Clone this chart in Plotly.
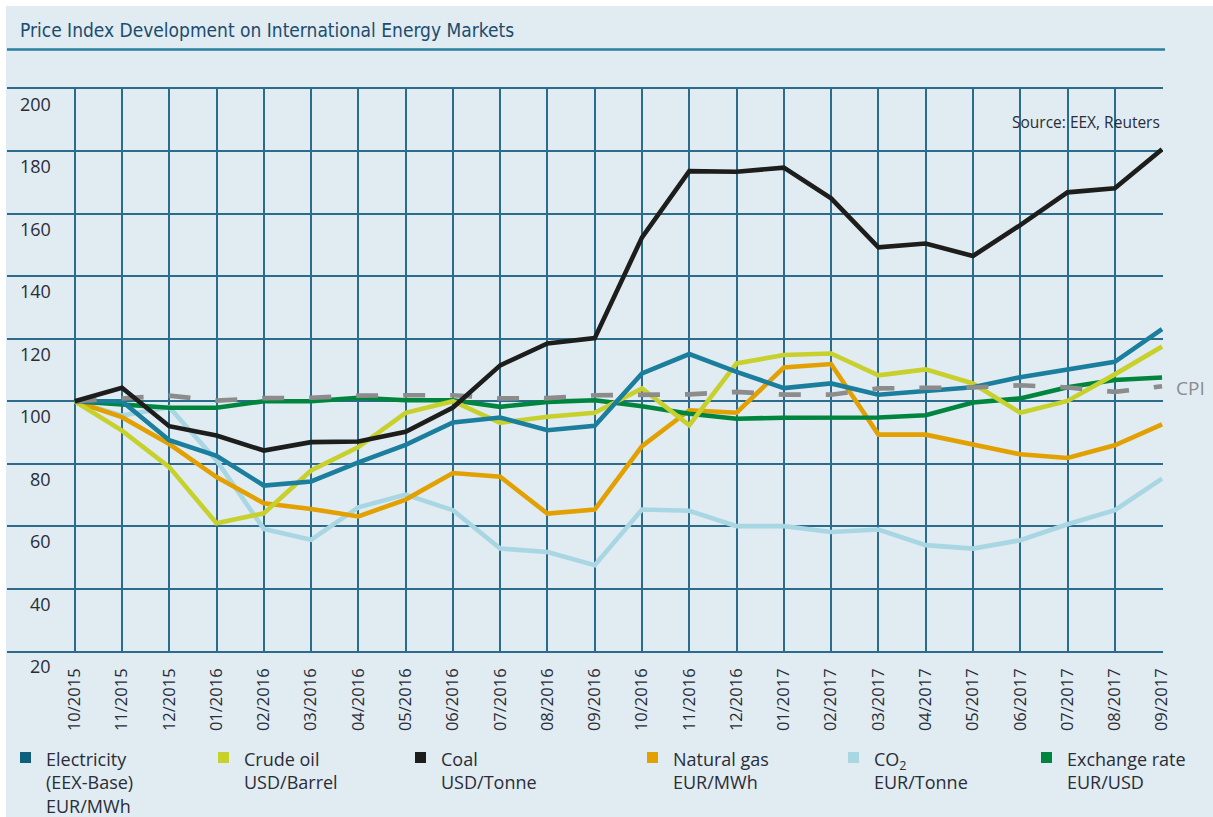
import plotly.graph_objects as go

# ---------------- data ----------------
months = ["10/2015", "11/2015", "12/2015", "01/2016", "02/2016", "03/2016",
          "04/2016", "05/2016", "06/2016", "07/2016", "08/2016", "09/2016",
          "10/2016", "11/2016", "12/2016", "01/2017", "02/2017", "03/2017",
          "04/2017", "05/2017", "06/2017", "07/2017", "08/2017", "09/2017"]

electricity = [100, 100, 87.5, 82.5, 73, 74.3, 80.4, 86, 93.2, 94.8, 90.7, 92.1,
               108.9, 115.1, 109.4, 104.2, 105.7, 102.1, 103.3, 104.5, 107.7, 110.2, 112.6, 123.1]
crude_oil = [100, 90.6, 78.9, 60.9, 64.1, 77.8, 85.3, 96.3, 100, 93.1, 95, 96.3,
             104.1, 92.3, 112.1, 114.8, 115.3, 108.3, 110.2, 105.7, 96.3, 100.1, 108.6, 117.5]
coal = [100, 104.3, 92, 89, 84.2, 86.9, 87.1, 90.2, 98, 111.5, 118.5, 120.2,
        152.5, 173.7, 173.5, 174.8, 165, 149.3, 150.5, 146.5, 156.4, 166.9, 168.2, 180.7]
natural_gas = [100, 94.9, 86.3, 75.7, 67.3, 65.5, 63.1, 68.5, 77, 75.8, 64, 65.3,
               85.6, 97.1, 96.3, 110.8, 111.9, 89.3, 89.3, 86.2, 83, 81.8, 85.9, 92.6]
co2 = [100, 95.4, 98.1, 81, 59.1, 55.6, 66, 70.1, 65.1, 52.8, 51.7, 47.5,
       65.3, 64.9, 60, 60, 58.1, 58.9, 53.9, 52.8, 55.5, 60.6, 65.1, 75.2]
exchange_rate = [100, 99, 97.9, 97.9, 100, 100, 101.1, 100.3, 100.3, 98.2, 99.8, 100.3,
                 98.4, 96, 94.4, 94.7, 94.8, 94.8, 95.5, 99.6, 100.9, 104.5, 106.8, 107.6]
cpi = [100, 101, 101.8, 100.2, 101, 101.1, 101.8, 101.9, 101.9, 100.9, 101, 101.9,
       101.9, 102.2, 103, 102.1, 102.1, 104.1, 104.3, 104.4, 105.1, 104.4, 103, 104.8]

y_ticks = [20, 40, 60, 80, 100, 120, 140, 160, 180, 200]

title_text = "Price Index Development on International Energy Markets"
source_text = "Source: EEX, Reuters"
legend_labels = ["Electricity<br>(EEX-Base)<br>EUR/MWh", "Crude oil<br>USD/Barrel",
                 "Coal<br>USD/Tonne", "Natural gas<br>EUR/MWh",
                 "CO<sub>2</sub><br>EUR/Tonne", "Exchange rate<br>EUR/USD"]

# ---------------- styles ----------------
C_ELEC = "#1b7e9c"
C_OIL = "#c8d02c"
C_COAL = "#1d1d1b"
C_GAS = "#e2a100"
C_CO2 = "#a9d6e3"
C_FX = "#00853f"
C_CPI = "#8c8c8c"
BG = "#e0ebf2"
GRID = "#2b6c8c"
TXT = "#2a2d38"

W, H = 1213, 817
L, R, T, B = 7, 50, 89, 166
PW, PH = W - L - R, H - T - B


def px(x):  # pixel -> paper
    return (x - L) / PW


def py(y):
    return (H - B - y) / PH


x_idx = list(range(len(months)))

fig = go.Figure()

series = [
    ("CO2", co2, C_CO2, None),
    ("Natural gas", natural_gas, C_GAS, None),
    ("Exchange rate", exchange_rate, C_FX, None),
    ("Crude oil", crude_oil, C_OIL, None),
    ("Electricity", electricity, C_ELEC, None),
    ("CPI", cpi, C_CPI, "22px,25px"),
    ("Coal", coal, C_COAL, None),
]
for name, vals, col, dash in series:
    line = dict(color=col, width=4.6)
    if dash:
        line["dash"] = dash
    fig.add_trace(go.Scatter(x=x_idx, y=vals, mode="lines", name=name, line=line,
                             showlegend=False, hoverinfo="x+y+name"))

shapes = []
# white page border at top and left
shapes.append(dict(type="rect", xref="paper", yref="paper", x0=px(-5), x1=px(1230),
                   y0=py(6), y1=py(-5), fillcolor="white", line=dict(width=0), layer="below"))
shapes.append(dict(type="rect", xref="paper", yref="paper", x0=px(-5), x1=px(6),
                   y0=py(830), y1=py(-5), fillcolor="white", line=dict(width=0), layer="below"))
# separator under title
shapes.append(dict(type="line", xref="paper", yref="paper", x0=px(7), x1=px(1165),
                   y0=py(49.5), y1=py(49.5), line=dict(color="#2a7fa2", width=2.5)))

annotations = []
annotations.append(dict(text=title_text, xref="paper", yref="paper", x=px(18), y=py(30),
                        xanchor="left", yanchor="middle", showarrow=False,
                        font=dict(family="Liberation Sans Narrow, DejaVu Sans Condensed, Noto Sans",
                                  size=19, color="#1d4c6c")))
annotations.append(dict(text=source_text, xref="paper", yref="paper", x=px(1162), y=py(122),
                        xanchor="right", yanchor="middle", showarrow=False,
                        font=dict(family="Open Sans", size=15.5, color=TXT)))
annotations.append(dict(text="CPI", xref="paper", y=cpi[-1], yref="y", x=px(1174),
                        xanchor="left", yanchor="middle", showarrow=False, yshift=-2,
                        font=dict(family="Open Sans", size=19, color=C_CPI)))
for v in y_ticks:
    annotations.append(dict(text=str(v), xref="paper", yref="y", x=px(53), y=v,
                            xanchor="right", yanchor="middle", yshift=-15, showarrow=False,
                            font=dict(family="Open Sans", size=18, color=TXT)))

legend_sq_colors = ["#0d5f7d", C_OIL, C_COAL, C_GAS, C_CO2, C_FX]
legend_x = [20, 218, 415, 647, 848, 1041]
for lab, col, lx in zip(legend_labels, legend_sq_colors, legend_x):
    shapes.append(dict(type="rect", xref="paper", yref="paper", x0=px(lx), x1=px(lx + 11),
                       y0=py(763), y1=py(752), fillcolor=col, line=dict(width=0)))
    annotations.append(dict(text=lab, xref="paper", yref="paper", x=px(lx + 24), y=py(745),
                            xanchor="left", yanchor="top", align="left", showarrow=False,
                            font=dict(family="Open Sans", size=18, color=TXT)))

fig.update_layout(
    width=W, height=H,
    margin=dict(l=L, r=R, t=T, b=B, pad=0),
    paper_bgcolor=BG, plot_bgcolor=BG,
    shapes=shapes, annotations=annotations,
    showlegend=False,
    xaxis=dict(range=[-1.432, 23.02], tickvals=x_idx, ticktext=months, tickangle=-90,
               showgrid=True, gridcolor=GRID, gridwidth=1.6, zeroline=False,
               showline=True, mirror=True, linecolor=GRID, linewidth=1.6,
               ticks="", ticklabelstandoff=9,
               tickfont=dict(family="Open Sans", size=16.5, color=TXT), fixedrange=True),
    yaxis=dict(range=[20, 200], tickvals=y_ticks, showticklabels=False,
               showgrid=True, gridcolor=GRID, gridwidth=1.6, zeroline=False,
               showline=False, ticks="", fixedrange=True),
)

fig.write_html("out.html", config={"displayModeBar": False},
               post_script="document.body.style.margin='0px';document.body.style.overflow='hidden';")
